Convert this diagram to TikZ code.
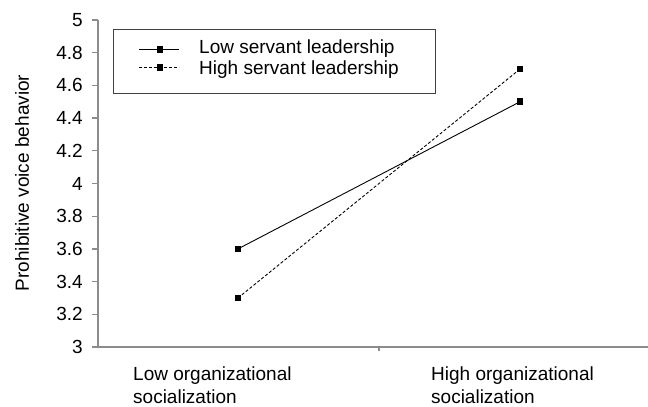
\documentclass[tikz,border=0pt]{standalone}
\usepackage{fontspec}
\setmainfont{Liberation Sans}
\usetikzlibrary{math}

\begin{document}
\begin{tikzpicture}[x=1pt, y=1pt,
  axisline/.style={draw=black!45, line width=1.3pt},
  lbl/.style={font=\fontsize{19}{23.3}\selectfont, inner sep=0pt},
  mk/.style={fill=black, minimum size=6.5pt, inner sep=0pt},
  lowsl/.style={line width=0.9pt},
  highsl/.style={line width=0.9pt, dash pattern=on 3pt off 2pt}]
  \tikzmath{\ya = 60; \yu = 163.5; \xl = 238; \xh = 520;}
  \useasboundingbox (0,0) rectangle (648,407);

  % axes
  \draw[axisline] (98, \ya) -- (98, 387);
  \draw[axisline] (92, \ya) -- (648, \ya);
  \draw[axisline] (379, \ya) -- (379, \ya-4);
  \foreach \i/\t in {0/3, 1/3.2, 2/3.4, 3/3.6, 4/3.8, 5/4, 6/4.2, 7/4.4, 8/4.6, 9/4.8, 10/5} {
    \draw[axisline] (92, \ya+\i*\yu/5) -- (98, \ya+\i*\yu/5);
    \node[lbl, anchor=east] (t\i) at (83, \ya+\i*\yu/5) {\t};
  }
  \node[lbl, rotate=90] (ylab) at (22, 224) {Prohibitive voice behavior};
  \node[lbl, anchor=north west, align=left] (xlow) at (133, 40.3) {Low organizational\\socialization};
  \node[lbl, anchor=north west, align=left] (xhigh) at (431, 40.3) {High organizational\\socialization};

  % data
  \node[mk] (ll) at (\xl, \ya+0.6*\yu) {};
  \node[mk] (lh) at (\xh, \ya+1.5*\yu) {};
  \node[mk] (hl) at (\xl, \ya+0.3*\yu) {};
  \node[mk] (hh) at (\xh, \ya+1.7*\yu) {};
  \draw[lowsl] (ll.center) -- (lh.center);
  \draw[highsl] (hl.center) -- (hh.center);

  % legend
  \draw[draw=black!75, line width=0.9pt] (113, 314) rectangle (435, 378);
  \coordinate (ls1) at (139, 357.7);
  \coordinate (ls2) at (179, 357.7);
  \coordinate (hs1) at (139, 339.3);
  \coordinate (hs2) at (179, 339.3);
  \draw[lowsl] (ls1) -- (ls2);
  \draw[highsl] (hs1) -- (hs2);
  \node[mk] (lsm) at (160, 357.7) {};
  \node[mk] (hsm) at (160, 339.3) {};
  \node[lbl, anchor=base west] (lst) at (199, 353.7) {Low servant leadership};
  \node[lbl, anchor=base west] (hst) at (199, 332) {High servant leadership};
\end{tikzpicture}
\end{document}
